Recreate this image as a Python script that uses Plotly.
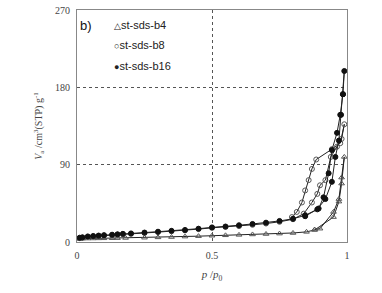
import plotly.graph_objects as go

# st-sds-b4 (open triangles): adsorption then desorption
b4_p = [0.01, 0.02, 0.04, 0.06, 0.08, 0.10, 0.13, 0.15, 0.18, 0.25, 0.30, 0.35, 0.40, 0.45, 0.50,
        0.55, 0.60, 0.65, 0.70, 0.75, 0.80, 0.85, 0.88, 0.95, 0.97, 0.98, 0.99,
        0.98, 0.97, 0.95, 0.90, 0.88]
b4_v = [3.5, 3.8, 4.0, 4.1, 4.2, 4.3, 4.4, 4.5, 4.7, 5.0, 5.4, 5.8, 6.3, 6.8, 7.3,
        7.8, 8.3, 8.8, 9.3, 9.8, 10.5, 11.8, 14.0, 29.0, 47.0, 68.0, 99.0,
        75.0, 50.0, 35.0, 15.5, 14.5]

# st-sds-b8 (open circles)
b8_p = [0.01, 0.02, 0.04, 0.06, 0.08, 0.10, 0.13, 0.15, 0.17, 0.20, 0.25, 0.30, 0.35, 0.40, 0.45,
        0.50, 0.55, 0.60, 0.65, 0.70, 0.75, 0.80, 0.84, 0.87, 0.89, 0.90, 0.92, 0.94, 0.963, 0.98, 0.99,
        0.975, 0.944, 0.886, 0.87, 0.858, 0.845, 0.833, 0.814, 0.796]
b8_v = [4.5, 5.0, 6.0, 6.5, 7.0, 7.5, 8.0, 8.5, 9.0, 9.5, 10.5, 11.5, 12.5, 13.5, 15.0,
        16.5, 17.5, 18.5, 20.0, 21.5, 23.5, 26.5, 33.0, 46.0, 56.0, 66.0, 72.0, 99.0, 111.0, 120.0, 137.0,
        115.0, 108.0, 96.0, 85.0, 72.0, 60.0, 46.0, 35.0, 29.0]

# st-sds-b16 (filled circles)
b16_p = [0.01, 0.02, 0.04, 0.06, 0.08, 0.10, 0.13, 0.15, 0.17, 0.20, 0.25, 0.30, 0.35, 0.40, 0.45,
         0.50, 0.55, 0.60, 0.65, 0.70, 0.75, 0.80, 0.845, 0.89, 0.92, 0.944, 0.957, 0.97, 0.978, 0.985, 0.99,
         0.985, 0.975, 0.963, 0.944, 0.932, 0.913, 0.895, 0.845]
b16_v = [5.0, 5.5, 6.5, 7.0, 7.5, 8.0, 8.5, 9.0, 9.5, 10.0, 11.0, 12.0, 13.0, 14.0, 15.5,
         17.0, 18.0, 19.5, 21.0, 22.5, 24.5, 27.0, 31.0, 38.0, 50.0, 70.0, 99.0, 118.0, 148.0, 172.0, 199.0,
         172.0, 148.0, 127.0, 107.0, 80.0, 52.0, 39.0, 30.0]

names = ["st-sds-b4", "st-sds-b8", "st-sds-b16"]
legend_symbols = ["△", "○", "●"]
y_ticks = [0, 90, 180, 270]
x_ticks = [0, 0.5, 1]

fig = go.Figure()
styles = [
    dict(symbol="triangle-up-open", size=5, color="#555"),
    dict(symbol="circle-open", size=5, color="#555"),
    dict(symbol="circle", size=5, color="#111"),
]
for name, xs, ys, st in zip(names, [b4_p, b8_p, b16_p], [b4_v, b8_v, b16_v], styles):
    fig.add_trace(go.Scatter(x=xs, y=ys, mode="lines+markers", name=name, showlegend=False,
                             line=dict(color="#222", width=1),
                             marker=dict(symbol=st["symbol"], size=st["size"], color=st["color"],
                                         line=dict(color=st["color"], width=1))))

# legend drawn as text entries
for i, (name, sym) in enumerate(zip(names, legend_symbols)):
    fig.add_annotation(text=f"<span style='font-size:9px'>{sym}</span>{name}",
                       x=0.13, y=0.935 - i * 0.088, xref="paper", yref="paper",
                       showarrow=False, xanchor="left", yanchor="middle",
                       font=dict(family="Liberation Sans, Arial", size=11, color="#222"))

fig.add_annotation(text="b)", x=0.005, y=0.975, xref="paper", yref="paper", showarrow=False,
                   xanchor="left", yanchor="top", font=dict(family="Liberation Sans, Arial", size=13, color="#111"))

axis_common = dict(showline=True, linecolor="#888", linewidth=1, mirror=True,
                   ticks="outside", ticklen=4, tickcolor="rgba(0,0,0,0)",
                   showgrid=True, gridcolor="#555", griddash="dot", gridwidth=1, zeroline=False,
                   automargin=False,
                   tickfont=dict(family="Liberation Serif, Times New Roman", size=10, color="#444"))

fig.update_layout(
    width=382, height=293,
    margin=dict(l=77, r=35, t=10, b=51),
    paper_bgcolor="white", plot_bgcolor="white",
    showlegend=False,
    xaxis=dict(range=[0, 1], tickvals=x_ticks, ticktext=[str(v) for v in x_ticks],
               title=dict(text="<i>p</i> /<i>p</i><sub>0</sub>", standoff=10,
                          font=dict(family="Liberation Serif, Times New Roman", size=11, color="#444")),
               **axis_common),
    yaxis=dict(range=[0, 270], tickvals=y_ticks, ticktext=[str(v) for v in y_ticks],
               title=dict(text="<i>V</i><sub>a</sub> /cm<sup>3</sup>(STP) g<sup>-1</sup>", standoff=10,
                          font=dict(family="Liberation Serif, Times New Roman", size=10, color="#444")),
               **axis_common),
)

# remove the page's default body margin so the figure sits at the window origin
fig.write_html("out.html", config={"displayModeBar": False},
               post_script="document.body.style.margin='0';")
